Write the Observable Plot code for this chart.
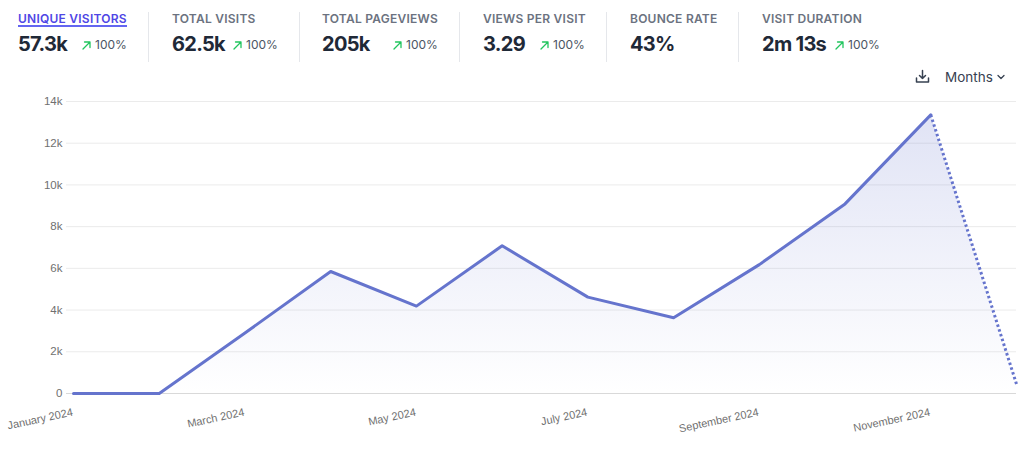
<!DOCTYPE html>
<html>
<head>
<meta charset="utf-8">
<script src="https://cdn.jsdelivr.net/npm/d3@7"></script>
<script src="https://cdn.jsdelivr.net/npm/@observablehq/plot@0.6"></script>
<style>
  html, body { margin: 0; padding: 0; background: #fff; }
  body { width: 1024px; height: 450px; position: relative; overflow: hidden; font-family: Inter, "Noto Sans", sans-serif; }
  .lbl { position: absolute; top: 11px; font-size: 12px; line-height: 16px; font-weight: 600; letter-spacing: 0.02em; color: #6b7280; white-space: nowrap; }
  .lbl.active { color: #4f46e5; }
  .uline { position: absolute; top: 25px; height: 2px; background: #6366f1; }
  .val { position: absolute; top: 30px; font-size: 20px; line-height: 28px; font-weight: 700; letter-spacing: -0.035em; color: #1f2937; white-space: nowrap; }
  .pct { position: absolute; top: 37px; font-size: 12px; line-height: 16px; color: #4b5563; white-space: nowrap; }
  .arr { position: absolute; top: 41px; width: 9px; height: 9px; }
  .arr svg { display: block; width: 9px; height: 9px; }
  .div { position: absolute; top: 12px; height: 50px; width: 1px; background: #e5e7eb; }
  #months { position: absolute; left: 945px; top: 68px; font-size: 13.5px; line-height: 18px; color: #374151; }
  #chart { position: absolute; left: 0; top: 90px; }
</style>
</head>
<body>
<div id="stats"></div>
<svg style="position:absolute;left:915px;top:69px" width="15" height="15" viewBox="0 0 15 15">
  <path d="M7.5 1.5 V9.5 M4.5 6.5 L7.5 9.5 L10.5 6.5 M1.5 9 V13 H13.5 V9" fill="none" stroke="#374151" stroke-width="1.5" stroke-linecap="round" stroke-linejoin="round"/>
</svg>
<div id="months">Months</div>
<svg style="position:absolute;left:997px;top:74px" width="8" height="6" viewBox="0 0 8 6">
  <path d="M1 1.5 L4 4.5 L7 1.5" fill="none" stroke="#374151" stroke-width="1.3" stroke-linecap="round" stroke-linejoin="round"/>
</svg>
<div id="chart"></div>
<script>
// ---- Data ----
const months = ["January 2024","February 2024","March 2024","April 2024","May 2024","June 2024",
                "July 2024","August 2024","September 2024","October 2024","November 2024","December 2024"];
const visitors = [0, 0, 2900, 5850, 4190, 7080, 4620, 3630, 6180, 9090, 13360, 450];
const yTicks = [0, 2000, 4000, 6000, 8000, 10000, 12000, 14000];
const xTickLabels = ["January 2024","March 2024","May 2024","July 2024","September 2024","November 2024"];

const statLabels = ["UNIQUE VISITORS","TOTAL VISITS","TOTAL PAGEVIEWS","VIEWS PER VISIT","BOUNCE RATE","VISIT DURATION"];
const statValues = ["57.3k","62.5k","205k","3.29","43%","2m 13s"];
const statChanges = ["100%","100%","100%","100%",null,"100%"];

// ---- Header (layout only) ----
const statX = [18, 172, 322, 483, 630, 762];
const arrowX = [82, 233, 393, 540, null, 835];
const dividerX = [148, 299, 459, 606, 738];
const stats = document.getElementById("stats");
const arrowSvg = '<svg viewBox="0 0 9 9"><path d="M1 8 L8 1 M2.5 1 H8 V6.5" fill="none" stroke="#22c55e" stroke-width="1.3" stroke-linecap="round" stroke-linejoin="round"/></svg>';
statLabels.forEach((l, i) => {
  const lab = document.createElement("div");
  lab.className = "lbl" + (i === 0 ? " active" : "");
  lab.style.left = statX[i] + "px";
  lab.textContent = l;
  stats.appendChild(lab);
  if (i === 0) {
    const u = document.createElement("div");
    u.className = "uline";
    u.style.left = statX[i] + "px";
    u.style.width = lab.getBoundingClientRect().width + "px";
    stats.appendChild(u);
  }
  const v = document.createElement("div");
  v.className = "val";
  v.style.left = statX[i] + "px";
  v.textContent = statValues[i];
  stats.appendChild(v);
  if (statChanges[i]) {
    const a = document.createElement("div");
    a.className = "arr";
    a.style.left = arrowX[i] + "px";
    a.innerHTML = arrowSvg;
    stats.appendChild(a);
    const p = document.createElement("div");
    p.className = "pct";
    p.style.left = (arrowX[i] + 13) + "px";
    p.textContent = statChanges[i];
    stats.appendChild(p);
  }
});
dividerX.forEach(x => {
  const d = document.createElement("div");
  d.className = "div";
  d.style.left = x + "px";
  stats.appendChild(d);
});

// ---- Chart ----
const data = months.map((m, i) => ({i, month: m, value: visitors[i]}));
const solid = data.slice(0, 11);
const dotted = data.slice(10);
const tickData = xTickLabels.map(l => ({i: months.indexOf(l), label: l}));
const color = "rgb(101,116,205)";

const defs = () => {
  const d = d3.create("svg:defs");
  const g = d.append("linearGradient").attr("id", "areaGrad").attr("x1", 0).attr("y1", 0).attr("x2", 0).attr("y2", 1);
  g.append("stop").attr("offset", "0%").attr("stop-color", color).attr("stop-opacity", 0.2);
  g.append("stop").attr("offset", "100%").attr("stop-color", color).attr("stop-opacity", 0);
  return d.node();
};

const chart = Plot.plot({
  width: 1024,
  height: 360,
  marginTop: 11,
  marginBottom: 57,
  marginLeft: 66,
  marginRight: 8,
  style: {fontFamily: "'Liberation Sans', Arial, sans-serif", fontSize: "11px", color: "#666", background: "transparent"},
  x: {type: "linear", domain: [0, 11], range: [73, 1016], axis: null},
  y: {domain: [0, 14000], axis: null},
  marks: [
    defs,
    Plot.ruleY(yTicks, {stroke: d => d === 0 ? "#d9d9d9" : "#ebebeb", strokeWidth: 1}),
    Plot.areaY(data, {x: "i", y: "value", fill: "url(#areaGrad)"}),
    Plot.lineY(solid, {x: "i", y: "value", stroke: color, strokeWidth: 3, strokeLinejoin: "round"}),
    Plot.lineY(dotted, {x: "i", y: "value", stroke: color, strokeWidth: 3, strokeLinecap: "butt", strokeDasharray: "2.5 2.5"}),
    Plot.axisY({ticks: yTicks, label: null, tickSize: 0, tickPadding: 4, tickFormat: d => d === 0 ? "0" : (d / 1000) + "k", fill: "#707070", fontSize: 11.5}),
    Plot.text(tickData, {x: "i", frameAnchor: "bottom", text: "label", textAnchor: "end", lineAnchor: "bottom", rotate: -12, dy: 22, fill: "#707070"})
  ]
});
document.getElementById("chart").appendChild(chart);
</script>
</body>
</html>
